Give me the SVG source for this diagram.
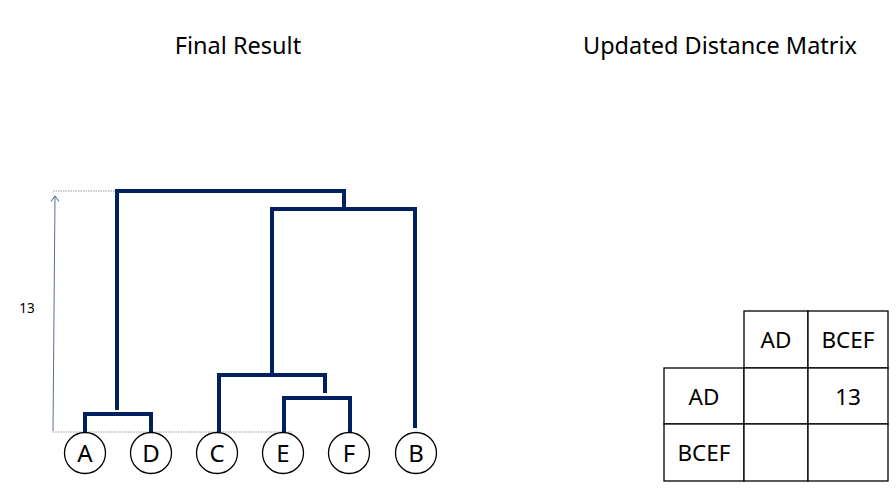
<svg xmlns="http://www.w3.org/2000/svg" width="896" height="489" viewBox="0 0 896 489">
<style>
.title{font-family:"Noto Sans","Open Sans",sans-serif;font-size:23.5px;fill:#000;text-anchor:middle}
.lbl{font-family:"Noto Sans","Open Sans",sans-serif;font-size:24px;fill:#000;text-anchor:middle}
.cell{font-family:"Noto Sans","Open Sans",sans-serif;font-size:22.5px;fill:#000;text-anchor:middle}
.tree{fill:none;stroke:#002060;stroke-width:4;stroke-linecap:butt;stroke-linejoin:miter}
.dot{fill:none;stroke:#999;stroke-width:1.2;stroke-dasharray:1.5 1}
.node circle{fill:#fff;stroke:#000;stroke-width:1.3}
.grid{fill:#fff;stroke:#000;stroke-width:1.3}
</style>
<defs>
<marker id="arr" viewBox="0 0 10 10" refX="9" refY="5" markerWidth="10" markerHeight="10" markerUnits="userSpaceOnUse" orient="auto">
<path d="M3.5 1 L9 5 L3.5 9" fill="none" stroke="#5a6e9a" stroke-width="1"/>
</marker>
</defs>
<rect width="896" height="489" fill="#fff"/>
<text class="title" x="238" y="54">Final Result</text>
<text class="title" x="720" y="54">Updated Distance Matrix</text>

<g id="connectors">
<line class="dot" x1="53" y1="191" x2="117" y2="191"/>
<line class="dot" x1="53" y1="432" x2="292" y2="432"/>
<line x1="53" y1="431" x2="55" y2="196" stroke="#5a6e9a" stroke-width="1" marker-end="url(#arr)"/>
<path class="tree" d="M117 410 V191 H344 V209"/>
<path class="tree" d="M85 432 V414 H151 V432"/>
<path class="tree" d="M272 375 V209 H415 V428"/>
<path class="tree" d="M219 432 V375 H325 V393"/>
<path class="tree" d="M284 432 V398 H350 V432"/>
</g>
<text x="27" y="313" font-family="Noto Sans,Open Sans,sans-serif" font-size="13.5" text-anchor="middle">13</text>

<g id="node-A" class="node"><circle cx="85" cy="453" r="20.5"/><text class="lbl" x="85" y="462">A</text></g>
<g id="node-D" class="node"><circle cx="151" cy="453" r="20.5"/><text class="lbl" x="151" y="462">D</text></g>
<g id="node-C" class="node"><circle cx="217" cy="453" r="20.5"/><text class="lbl" x="217" y="462">C</text></g>
<g id="node-E" class="node"><circle cx="283" cy="453" r="20.5"/><text class="lbl" x="283" y="462">E</text></g>
<g id="node-F" class="node"><circle cx="349" cy="453" r="20.5"/><text class="lbl" x="349" y="462">F</text></g>
<g id="node-B" class="node"><circle cx="416" cy="453" r="20.5"/><text class="lbl" x="416" y="462">B</text></g>

<g id="matrix">
<rect class="grid" x="744" y="311" width="64" height="57"/>
<rect class="grid" x="808" y="311" width="80" height="57"/>
<rect class="grid" x="664" y="368" width="80" height="56"/>
<rect class="grid" x="744" y="368" width="64" height="56"/>
<rect class="grid" x="808" y="368" width="80" height="56"/>
<rect class="grid" x="664" y="424" width="80" height="57"/>
<rect class="grid" x="744" y="424" width="64" height="57"/>
<rect class="grid" x="808" y="424" width="80" height="57"/>
<text class="cell" x="776" y="348">AD</text>
<text class="cell" x="848" y="348">BCEF</text>
<text class="cell" x="704" y="405">AD</text>
<text class="cell" x="848" y="405">13</text>
<text class="cell" x="704" y="461">BCEF</text>
</g>
</svg>
